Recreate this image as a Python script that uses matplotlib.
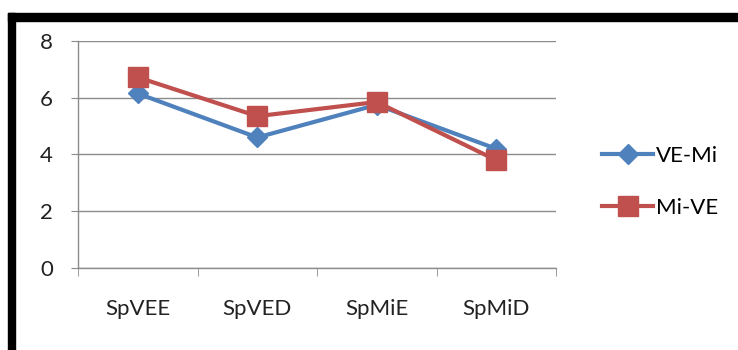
import matplotlib
matplotlib.use("Agg")
import matplotlib.pyplot as plt
from matplotlib.patches import Rectangle

categories = ["SpVEE", "SpVED", "SpMiE", "SpMiD"]
ve_mi = [6.15, 4.6, 5.75, 4.2]
mi_ve = [6.72, 5.35, 5.85, 3.8]
y_ticks = [0, 2, 4, 6, 8]

plt.rcParams['font.family'] = ['Lato', 'DejaVu Sans']

fig = plt.figure(figsize=(7.38, 3.5), dpi=100)
ax = fig.add_axes([0.1057, 0.2343, 0.6477, 0.6486])

x = list(range(len(categories)))
ax.plot(x, ve_mi, color='#4F81BD', linewidth=3, marker='D', markersize=10,
        label='VE-Mi', zorder=3)
ax.plot(x, mi_ve, color='#C0504D', linewidth=3, marker='s', markersize=14,
        label='Mi-VE', zorder=4)

ax.set_xlim(-0.5, len(categories) - 0.5)
ax.set_ylim(0, 8)
ax.set_yticks(y_ticks)
ax.set_xticks(x)
ax.set_xticklabels(categories)
ax.set_xticks([i - 0.5 for i in range(len(categories) + 1)], minor=True)

grid_c = '#8C8C8C'
ax.yaxis.grid(True, color=grid_c, linewidth=1)
ax.set_axisbelow(True)
for s in ['top', 'right']:
    ax.spines[s].set_visible(False)
for s in ['left', 'bottom']:
    ax.spines[s].set_color(grid_c)
    ax.spines[s].set_linewidth(1)

ax.tick_params(axis='y', length=5, color=grid_c, pad=13, labelsize=16,
               labelcolor='#222222')
ax.tick_params(axis='x', which='major', length=0, pad=22, labelsize=16,
               labelcolor='#222222')
ax.tick_params(axis='x', which='minor', length=6, color=grid_c, direction='out')

ax.legend(loc='center left', bbox_to_anchor=(1.055, 0.38), frameon=False,
          fontsize=16, handlelength=2.3, labelspacing=1.45, handletextpad=0.1)

# black frame of the screenshot (top and left edges)
fig.patches.append(Rectangle((8 / 738, 0), 7 / 738, 1 - 13 / 350,
                             transform=fig.transFigure, color='black'))
fig.patches.append(Rectangle((8 / 738, 1 - 21 / 350), 1, 8 / 350,
                             transform=fig.transFigure, color='black'))

fig.savefig('out.png', dpi=100)
